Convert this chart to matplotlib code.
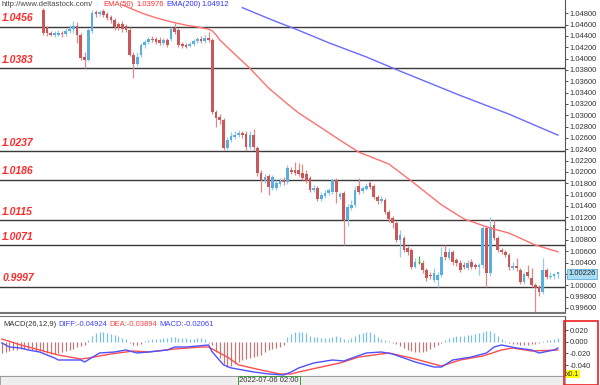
import matplotlib.pyplot as plt
from matplotlib.patches import Rectangle
import numpy as np

plt.rcParams['font.family'] = ['Liberation Sans', 'DejaVu Sans']

# EURUSD H1 candles, index 0 = first candle visible on the chart
opens = [
    1.0486, 1.0454, 1.0445, 1.0442, 1.0442, 1.0445, 1.0444, 1.0449, 1.0452, 1.0458,
    1.0442, 1.0403, 1.0398, 1.0449, 1.0482, 1.0479, 1.0484, 1.0479, 1.0473, 1.0468,
    1.0461, 1.0461, 1.0458, 1.0451, 1.0406, 1.0391, 1.0406, 1.0424, 1.0429, 1.0435,
    1.0435, 1.0433, 1.0428, 1.0433, 1.0435, 1.0454, 1.0451, 1.0426, 1.0424, 1.0422,
    1.0426, 1.0431, 1.0435, 1.0431, 1.0436, 1.0433, 1.0306, 1.0297, 1.0292, 1.0242,
    1.0256, 1.0262, 1.0265, 1.0269, 1.0267, 1.0244, 1.0265, 1.0242, 1.0198, 1.0184,
    1.0193, 1.0172, 1.0172, 1.0179, 1.0186, 1.0182, 1.0203, 1.0203, 1.0203, 1.0198,
    1.0196, 1.0189, 1.0168, 1.0172, 1.0152, 1.0158, 1.0163, 1.0165, 1.0186, 1.0156,
    1.0163, 1.0115, 1.0136, 1.0142, 1.0175, 1.0166, 1.0170, 1.0181, 1.0175, 1.0156,
    1.0149, 1.0151, 1.0129, 1.0119, 1.0110, 1.0080, 1.0083, 1.0066, 1.0062, 1.0032,
    1.0041, 1.0039, 1.0027, 1.0018, 1.0009, 1.0009, 1.0018, 1.0059, 1.0048, 1.0059,
    1.0045, 1.0039, 1.0036, 1.0031, 1.0041, 1.0036, 1.0032, 1.0036, 1.0101, 1.0022,
    1.0106, 1.0083, 1.0062, 1.0059, 1.0053, 1.0031, 1.0034, 1.0027, 1.0006, 1.0024,
    1.0013, 1.0000, 0.9997, 0.9988, 1.0027, 1.0015, 1.0016, 1.0019,
]
highs = [
    1.0489, 1.0458, 1.0449, 1.0449, 1.0451, 1.0449, 1.0454, 1.0459, 1.0466, 1.0465,
    1.0445, 1.0412, 1.0454, 1.0486, 1.0486, 1.0486, 1.0488, 1.0482, 1.0477, 1.0472,
    1.0465, 1.0466, 1.0461, 1.0456, 1.0412, 1.0412, 1.0428, 1.0433, 1.0438, 1.0440,
    1.0438, 1.0438, 1.0436, 1.0436, 1.0456, 1.0463, 1.0454, 1.0429, 1.0428, 1.0429,
    1.0435, 1.0438, 1.0440, 1.0442, 1.0447, 1.0436, 1.0309, 1.0302, 1.0295, 1.0262,
    1.0271, 1.0272, 1.0274, 1.0272, 1.0272, 1.0272, 1.0276, 1.0246, 1.0203, 1.0196,
    1.0196, 1.0195, 1.0186, 1.0189, 1.0191, 1.0212, 1.0209, 1.0218, 1.0216, 1.0214,
    1.0203, 1.0193, 1.0177, 1.0175, 1.0165, 1.0168, 1.0172, 1.0189, 1.0189, 1.0165,
    1.0166, 1.0143, 1.0151, 1.0175, 1.0189, 1.0175, 1.0181, 1.0184, 1.0179, 1.0159,
    1.0158, 1.0154, 1.0133, 1.0122, 1.0113, 1.0098, 1.0087, 1.0069, 1.0066, 1.0048,
    1.0052, 1.0045, 1.0031, 1.0024, 1.0031, 1.0024, 1.0068, 1.0071, 1.0066, 1.0062,
    1.0048, 1.0045, 1.0041, 1.0045, 1.0047, 1.0039, 1.0039, 1.0106, 1.0105, 1.0121,
    1.0115, 1.0087, 1.0066, 1.0062, 1.0057, 1.0041, 1.0048, 1.0031, 1.0024, 1.0036,
    1.0031, 1.0004, 1.0000, 1.0048, 1.0031, 1.0024, 1.0022, 1.0024,
]
lows = [
    1.0442, 1.0440, 1.0440, 1.0438, 1.0440, 1.0438, 1.0440, 1.0445, 1.0445, 1.0428,
    1.0398, 1.0383, 1.0396, 1.0445, 1.0473, 1.0475, 1.0473, 1.0468, 1.0463, 1.0451,
    1.0451, 1.0447, 1.0447, 1.0405, 1.0366, 1.0387, 1.0403, 1.0419, 1.0426, 1.0429,
    1.0426, 1.0424, 1.0424, 1.0421, 1.0431, 1.0444, 1.0421, 1.0419, 1.0419, 1.0421,
    1.0422, 1.0428, 1.0428, 1.0428, 1.0429, 1.0302, 1.0279, 1.0285, 1.0239, 1.0239,
    1.0253, 1.0258, 1.0262, 1.0260, 1.0239, 1.0241, 1.0239, 1.0193, 1.0165, 1.0181,
    1.0159, 1.0168, 1.0168, 1.0175, 1.0177, 1.0179, 1.0196, 1.0195, 1.0193, 1.0186,
    1.0181, 1.0165, 1.0165, 1.0149, 1.0149, 1.0154, 1.0159, 1.0161, 1.0145, 1.0152,
    1.0071, 1.0105, 1.0133, 1.0138, 1.0161, 1.0163, 1.0168, 1.0170, 1.0152, 1.0143,
    1.0145, 1.0126, 1.0112, 1.0101, 1.0076, 1.0050, 1.0059, 1.0053, 1.0029, 1.0031,
    1.0038, 1.0022, 1.0008, 1.0011, 1.0006, 0.9997, 1.0015, 1.0045, 1.0045, 1.0036,
    1.0034, 1.0024, 1.0029, 1.0027, 1.0029, 1.0029, 1.0018, 1.0031, 0.9997, 1.0016,
    1.0080, 1.0059, 1.0055, 1.0050, 1.0027, 1.0027, 1.0025, 1.0002, 1.0002, 1.0013,
    0.9997, 0.9951, 0.9981, 0.9985, 1.0011, 1.0011, 1.0011, 1.0013,
]
closes = [
    1.0445, 1.0445, 1.0442, 1.0445, 1.0445, 1.0444, 1.0449, 1.0452, 1.0458, 1.0442,
    1.0401, 1.0398, 1.0451, 1.0481, 1.0479, 1.0482, 1.0477, 1.0472, 1.0468, 1.0456,
    1.0456, 1.0452, 1.0451, 1.0406, 1.0391, 1.0403, 1.0424, 1.0429, 1.0435, 1.0433,
    1.0429, 1.0428, 1.0433, 1.0424, 1.0452, 1.0447, 1.0424, 1.0422, 1.0421, 1.0426,
    1.0431, 1.0435, 1.0431, 1.0436, 1.0433, 1.0306, 1.0295, 1.0292, 1.0242, 1.0256,
    1.0263, 1.0265, 1.0269, 1.0265, 1.0244, 1.0265, 1.0244, 1.0198, 1.0186, 1.0191,
    1.0173, 1.0191, 1.0181, 1.0184, 1.0182, 1.0207, 1.0200, 1.0198, 1.0196, 1.0189,
    1.0184, 1.0168, 1.0172, 1.0152, 1.0159, 1.0163, 1.0168, 1.0186, 1.0165, 1.0161,
    1.0115, 1.0138, 1.0142, 1.0168, 1.0165, 1.0172, 1.0175, 1.0173, 1.0156, 1.0149,
    1.0152, 1.0129, 1.0117, 1.0110, 1.0080, 1.0089, 1.0062, 1.0059, 1.0032, 1.0041,
    1.0041, 1.0027, 1.0013, 1.0016, 1.0022, 1.0018, 1.0050, 1.0050, 1.0059, 1.0041,
    1.0039, 1.0027, 1.0032, 1.0039, 1.0032, 1.0032, 1.0036, 1.0101, 1.0022, 1.0103,
    1.0083, 1.0062, 1.0059, 1.0053, 1.0032, 1.0034, 1.0031, 1.0006, 1.0020, 1.0016,
    1.0000, 0.9995, 0.9988, 1.0027, 1.0015, 1.0017, 1.0019, 1.00226,
]

# moving averages (bar index, value)
ema50_idx = [21, 26, 30, 34, 38, 41, 44, 45, 46, 47, 50, 55, 60, 65, 68, 74, 79, 84, 92, 98, 106, 112, 119, 124, 131, 137]
ema50_val = [1.0495, 1.0481, 1.0472, 1.0465, 1.0459, 1.0456, 1.0452, 1.0449, 1.0442, 1.0433, 1.0414, 1.0383, 1.0348,
             1.0320, 1.0304, 1.0278, 1.0256, 1.0235, 1.0214, 1.0184, 1.0142, 1.0117, 1.0101, 1.0092, 1.0071, 1.0059]
ema200_idx = [53, 61, 68, 76, 86, 95, 111, 124, 137]
ema200_val = [1.0490, 1.0468, 1.0450, 1.0428, 1.0403, 1.0378, 1.0335, 1.0302, 1.0265]

levels = [1.0456, 1.0383, 1.0237, 1.0186, 1.0115, 1.0071, 0.9997]
last_price = 1.00226

# MACD panel, starts 11 bars before the first visible candle
macd_start = -11
macd_hist = [
    -0.0188, -0.0171, -0.0154, -0.0137, -0.0137, -0.0120, -0.0120, -0.0120, -0.0137, -0.0154, -0.0154,
    -0.0171, -0.0188, -0.0205, -0.0205, -0.0188, -0.0171, -0.0154, -0.0137, -0.0120, -0.0085, -0.0068, -0.0051,
    0.0034, 0.0103, 0.0154, 0.0171, 0.0171, 0.0154, 0.0137, 0.0120, 0.0103, 0.0068, 0.0051,
    -0.0017, -0.0051, -0.0051, -0.0034,
    0.0017, 0.0034, 0.0051, 0.0051, 0.0051, 0.0068, 0.0068, 0.0085, 0.0085, 0.0068, 0.0068, 0.0068, 0.0051,
    0.0051, 0.0068, 0.0068, 0.0051,
    -0.0017,
    -0.0051, -0.0171, -0.0273, -0.0376, -0.0427, -0.0410, -0.0376, -0.0342, -0.0308, -0.0290,
    -0.0273, -0.0256, -0.0239, -0.0222, -0.0171, -0.0137, -0.0120, -0.0103, -0.0085, -0.0051,
    0.0085, 0.0137, 0.0171, 0.0171, 0.0171, 0.0154,
    0.0103, 0.0085, 0.0085, 0.0068, 0.0068, 0.0068, 0.0085, 0.0103, 0.0085, 0.0051, 0.0034,
    0.0068, 0.0103, 0.0137, 0.0154, 0.0171, 0.0171, 0.0137, 0.0085, 0.0051,
    0.0034, 0.0017,
    -0.0017, -0.0034, -0.0068, -0.0103, -0.0137, -0.0154, -0.0171, -0.0171, -0.0171, -0.0154, -0.0120, -0.0085,
    -0.0051, -0.0017,
    0.0034, 0.0068, 0.0085, 0.0103, 0.0103, 0.0103, 0.0120, 0.0120, 0.0137, 0.0154, 0.0171, 0.0188, 0.0188,
    0.0154, 0.0103,
    0.0051, 0.0017,
    -0.0017, -0.0034, -0.0034, -0.0051, -0.0051, -0.0051, -0.0034, -0.0034, -0.0017,
    0.0017, 0.0034, 0.0034, 0.0051, 0.0068,
]
diff_idx = [-11, -9, -6, -4, -1, 3, 4, 10, 11, 15, 19, 22, 25, 28, 33, 35, 38, 44, 45, 48, 50, 56, 60, 64, 66,
            68, 72, 77, 80, 86, 90, 93, 99, 104, 106, 109, 114, 118, 120, 122, 126, 130, 132, 136, 137]
diff_val = [-0.0022, -0.0091, -0.0108, -0.0142, -0.0176, -0.0279, -0.0313, -0.0313, -0.0347, -0.0193, -0.0176,
            -0.0142, -0.0193, -0.0176, -0.0142, -0.0091, -0.0091, -0.0056, -0.0176, -0.0397, -0.0449, -0.0518,
            -0.0552, -0.0569, -0.0518, -0.0449, -0.0364, -0.0313, -0.0330, -0.0193, -0.0176, -0.0210, -0.0347,
            -0.0433, -0.0433, -0.0313, -0.0262, -0.0193, -0.0091, -0.0056, -0.0108, -0.0142, -0.0193, -0.0142,
            -0.0108]
dea_idx = [-11, -6, -1, 4, 10, 12, 18, 24, 28, 35, 42, 44, 49, 52, 58, 63, 66, 68, 74, 79, 84, 92, 98, 106,
           111, 117, 122, 125, 130, 137]
dea_val = [0.0046, -0.0056, -0.0142, -0.0227, -0.0296, -0.0279, -0.0210, -0.0159, -0.0176, -0.0125, -0.0091,
           -0.0091, -0.0262, -0.0397, -0.0485, -0.0552, -0.0552, -0.0518, -0.0433, -0.0364, -0.0262, -0.0193,
           -0.0279, -0.0416, -0.0313, -0.0245, -0.0142, -0.0108, -0.0159, -0.0142]

RED = '#c9585a'
RED_WICK = '#dc8a8a'
BLUE = '#5aaee0'
BLUE_WICK = '#92cbec'

W, H = 600, 385
fig = plt.figure(figsize=(6, 3.85), dpi=100)
fig.patch.set_facecolor('white')

def fx(px):
    return px / W

def fy(py):
    return 1 - py / H

x_left, x_right = -11.52, 138.9

# ---- main price panel ----
ax = fig.add_axes([0, fy(313), fx(565), 313 / H])
o = np.array(opens); h = np.array(highs); l = np.array(lows); c = np.array(closes)
idx = np.arange(len(o))
up = c > o
down = c < o
flat = c == o

ax.vlines(idx[up], l[up], h[up], color=BLUE_WICK, lw=0.9, zorder=2)
ax.vlines(idx[down], l[down], h[down], color=RED_WICK, lw=0.9, zorder=2)
ax.vlines(idx[flat], l[flat], h[flat], color='#3cb043', lw=0.9, zorder=2)
ax.bar(idx[up], c[up] - o[up], bottom=o[up], width=0.72, color=BLUE, zorder=3)
ax.bar(idx[down], o[down] - c[down], bottom=c[down], width=0.72, color=RED, zorder=3)
ax.hlines(c[flat], idx[flat] - 0.35, idx[flat] + 0.35, color='#3cb043', lw=0.9, zorder=3)

ax.plot(ema50_idx, ema50_val, color='#ff7070', lw=1.0, zorder=4)
ax.plot(ema200_idx, ema200_val, color='#6a6aff', lw=1.0, zorder=4)

for lv in levels:
    ax.axhline(lv, color='#3a3a3a', lw=1.0, zorder=1)
    ax.annotate(f'{lv:.4f}', xy=(0.004, lv), xycoords=('axes fraction', 'data'),
                xytext=(0, 2.5), textcoords='offset points', ha='left', va='bottom',
                color='#ff2a2a', fontsize=7.5, fontweight='bold', fontstyle='italic')

ax.set_xlim(x_left, x_right)
ax.set_ylim(0.9951, 1.05035)
ax.yaxis.tick_right()
ticks = np.arange(0.996, 1.0481, 0.002)
ax.set_yticks(ticks)
ax.set_yticklabels([f'{v:.5f}' for v in ticks])
ax.tick_params(axis='y', labelsize=5.5, length=2, width=0.6, pad=1.5, colors='#333333')
ax.set_xticks([])
for s in ['top', 'left']:
    ax.spines[s].set_visible(False)
ax.spines['right'].set_color('#555555')
ax.spines['bottom'].set_color('#777777')
ax.spines['bottom'].set_linewidth(1.5)

# current price tag sits over the scale, as in the terminal
ax.annotate(f'{last_price:.5f}', xy=(1.0, last_price), xycoords=('axes fraction', 'data'),
            xytext=(2.5, -1), textcoords='offset points', ha='left', va='center',
            fontsize=5.5, color='#222222', zorder=10, annotation_clip=False,
            bbox=dict(boxstyle='square,pad=0.2', fc='#a8dcf5', ec='#5ab0e0', lw=0.6))

# header texts
fig.text(fx(2), fy(5), 'http://www.deltastock.com/', fontsize=5.5, color='#444444', va='center')
fig.text(fx(103), fy(5), 'EMA(50)', fontsize=5.5, color='#ff3030', va='center')
fig.text(fx(136), fy(5), '1.03976', fontsize=5.5, color='#ff3030', va='center')
fig.text(fx(166), fy(5), 'EMA(200)', fontsize=5.5, color='#3030ff', va='center')
fig.text(fx(201), fy(5), '1.04912', fontsize=5.5, color='#3030ff', va='center')

# ---- MACD panel ----
mx = fig.add_axes([0, fy(376), fx(565), (376 - 316) / H])
hist = np.array(macd_hist)
hidx = np.arange(macd_start, macd_start + len(hist))
mx.vlines(hidx[hist >= 0], 0, hist[hist >= 0], color='#7cc0e0', lw=0.9)
mx.vlines(hidx[hist < 0], 0, hist[hist < 0], color='#c07878', lw=0.9)
mx.plot(dea_idx, dea_val, color='#ff4d4d', lw=1.0)
mx.plot(diff_idx, diff_val, color='#5050ff', lw=1.0)
mx.set_xlim(x_left, x_right)
mx.set_ylim(-0.0587, 0.0440)
mx.yaxis.tick_right()
mx.set_yticks([0.02, 0.0, -0.02, -0.04])
mx.set_yticklabels(['0.020', '0.000', '-0.020', '-0.040'])
mx.tick_params(axis='y', labelsize=5.5, length=2, width=0.6, pad=1.5, colors='#333333')
mx.set_xticks([])
mx.spines['left'].set_visible(False)
mx.spines['top'].set_color('#777777')
mx.spines['bottom'].set_color('#777777')
mx.spines['right'].set_color('#555555')

fig.text(fx(3), fy(325), 'MACD(26,12,9)', fontsize=5.5, color='#333333', va='center')
fig.text(fx(58), fy(325), 'DIFF:-0.04924', fontsize=5.5, color='#4040ff', va='center')
fig.text(fx(109), fy(325), 'DEA:-0.03894', fontsize=5.5, color='#ff4040', va='center')
fig.text(fx(159), fy(325), 'MACD:-0.02061', fontsize=5.5, color='#4040ff', va='center')

# bottom time strip
fig.patches.append(Rectangle((0, 0), fx(565), 9 / H, transform=fig.transFigure,
                             fc='#eeeeee', ec='#999999', lw=0.6))
fig.text(fx(269), fy(381), '2022-07-06 02:00', fontsize=5.5, color='#333333', ha='center', va='center',
         bbox=dict(boxstyle='square,pad=0.15', fc='#f4f4f4', ec='#3c9a3c', lw=0.7))

# highlighted MACD scale box
fig.patches.append(Rectangle((fx(564), 0), fx(34), (385 - 321) / H, transform=fig.transFigure,
                             fc='none', ec='#ee2020', lw=1.2))
fig.text(fx(566), fy(374), 'x0.1', fontsize=5, color='#333333', va='center',
         bbox=dict(boxstyle='square,pad=0.05', fc='#ffff00', ec='none'))

plt.savefig('out.png', dpi=100)
